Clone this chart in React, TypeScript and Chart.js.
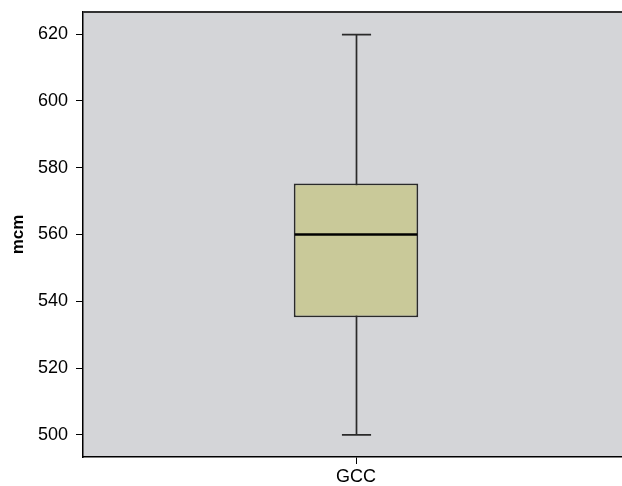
import React, { useEffect, useRef } from "react";
import { Chart, registerables } from "chart.js";

Chart.register(...registerables);

const categories = ["GCC"];
const whiskerMin = [500];
const q1 = [535.2];
const median = [560];
const q3 = [575.3];
const whiskerMax = [619.8];
const yTicks = [500, 520, 540, 560, 580, 600, 620];

const FONT = "'Liberation Sans', Arial, Helvetica, sans-serif";

const boxPlugin = {
  id: "boxExtras",
  beforeDraw(chart: any) {
    const { ctx, chartArea } = chart;
    ctx.save();
    ctx.fillStyle = "#d4d5d8";
    ctx.fillRect(chartArea.left, chartArea.top, chartArea.right - chartArea.left, chartArea.bottom - chartArea.top);
    ctx.restore();
  },
  beforeDatasetsDraw(chart: any) {
    const { ctx } = chart;
    const y = chart.scales.y;
    const meta = chart.getDatasetMeta(0);
    ctx.save();
    ctx.strokeStyle = "#2a2a2a";
    ctx.lineWidth = 1.7;
    meta.data.forEach((bar: any, i: number) => {
      const cx = Math.round(bar.x) + 0.5;
      const half = bar.width * 0.117;
      const yMin = y.getPixelForValue(whiskerMin[i]);
      const yMax = y.getPixelForValue(whiskerMax[i]);
      ctx.beginPath();
      ctx.moveTo(cx, yMin);
      ctx.lineTo(cx, yMax);
      ctx.moveTo(cx - half, yMin);
      ctx.lineTo(cx + half, yMin);
      ctx.moveTo(cx - half, yMax);
      ctx.lineTo(cx + half, yMax);
      ctx.stroke();
    });
    ctx.restore();
  },
  afterDatasetsDraw(chart: any) {
    const { ctx, chartArea } = chart;
    const y = chart.scales.y;
    const meta = chart.getDatasetMeta(0);
    ctx.save();
    ctx.strokeStyle = "#000000";
    ctx.lineWidth = 2.5;
    meta.data.forEach((bar: any, i: number) => {
      const ym = y.getPixelForValue(median[i]);
      ctx.beginPath();
      ctx.moveTo(bar.x - bar.width / 2 + 1, ym);
      ctx.lineTo(bar.x + bar.width / 2 - 1, ym);
      ctx.stroke();
    });
    ctx.strokeStyle = "#333333";
    ctx.lineWidth = 2;
    ctx.beginPath();
    ctx.moveTo(chartArea.left, chartArea.top);
    ctx.lineTo(chartArea.right, chartArea.top);
    ctx.stroke();
    ctx.restore();
  },
};

export default function App() {
  const canvasRef = useRef<HTMLCanvasElement | null>(null);

  useEffect(() => {
    if (!canvasRef.current) return;
    const chart = new Chart(canvasRef.current, {
      type: "bar",
      data: {
        labels: categories,
        datasets: [
          {
            label: "GCC",
            data: q1.map((v, i) => [v, q3[i]]) as any,
            backgroundColor: "#c9c999",
            borderColor: "#2a2a2a",
            borderWidth: 1.8,
            borderSkipped: false,
            barPercentage: 0.228,
            categoryPercentage: 1,
          },
        ],
      },
      options: {
        animation: false,
        responsive: true,
        maintainAspectRatio: false,
        layout: { padding: { top: 12, left: 0, right: 0, bottom: 0 } },
        plugins: {
          legend: { display: false },
          tooltip: { enabled: false },
          title: { display: false },
        },
        scales: {
          x: {
            type: "category",
            offset: true,
            afterFit(scale: any) {
              scale.height = 29;
              scale.paddingLeft = 0;
              scale.paddingRight = 0;
            },
            grid: {
              offset: false,
              drawOnChartArea: false,
              drawTicks: true,
              tickLength: 7,
              tickColor: "#000000",
            },
            border: { display: true, color: "#000000", width: 1.5 },
            ticks: {
              color: "#000000",
              padding: 2,
              font: { family: FONT, size: 18 },
            },
          },
          y: {
            type: "linear",
            min: 493.4,
            max: 626.6,
            afterFit(scale: any) {
              scale.width = 83;
              scale.paddingTop = 0;
              scale.paddingBottom = 0;
            },
            afterBuildTicks(scale: any) {
              scale.ticks = yTicks.map((v) => ({ value: v }));
            },
            grid: {
              drawOnChartArea: false,
              drawTicks: true,
              tickLength: 7,
              tickColor: "#000000",
            },
            border: { display: true, color: "#000000", width: 1.5 },
            ticks: {
              color: "#000000",
              padding: 8,
              font: { family: FONT, size: 18 },
            },
            title: {
              display: true,
              text: "mcm",
              color: "#000000",
              padding: { top: 8, bottom: 0 },
              font: { family: FONT, size: 17, weight: "bold" },
            },
          },
        },
      },
      plugins: [boxPlugin],
    });
    return () => chart.destroy();
  }, []);

  return (
    <div style={{ position: "fixed", left: 0, top: 0, width: 622, height: 486, overflow: "hidden", background: "#ffffff" }}>
      <div style={{ position: "relative", width: 629, height: 486 }}>
        <canvas ref={canvasRef} />
      </div>
    </div>
  );
}
